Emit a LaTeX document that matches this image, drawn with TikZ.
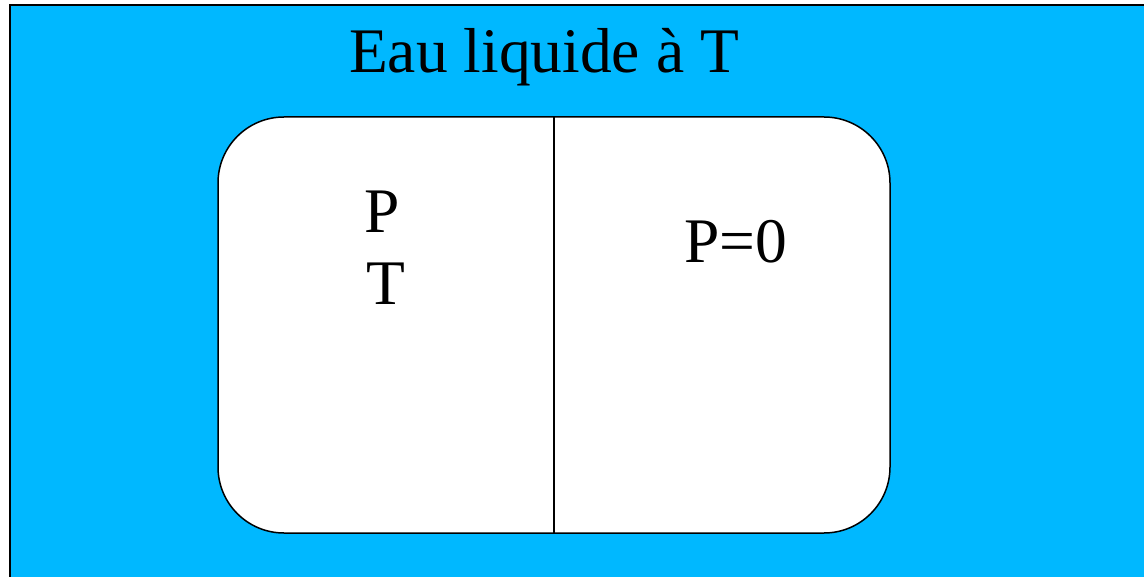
\documentclass[tikz,border=0pt]{standalone}
\usepackage{fontspec}
\setmainfont{Liberation Serif}
\definecolor{water}{RGB}{0,184,255}
\begin{document}
\begin{tikzpicture}[x=1pt,y=-1pt,
  lbl/.style={inner sep=0pt,font=\fontsize{63.5}{72}\selectfont},
  cell/.style={draw=black,line width=1.5pt,fill=white,rounded corners=66pt,
    minimum width=672pt,minimum height=416pt,inner sep=0pt}]
\useasboundingbox (0,0) rectangle (1144,577);
\fill[white] (0,0) rectangle (1144,577);
\draw[line width=2pt,fill=water] (10,5) rectangle (1160,590);
\node[lbl,anchor=base] (title) at (544,73) {Eau liquide à T};
\node[cell] (box) at (554,325) {};
\draw[line width=2.3pt] (box.north) -- (box.south);
\node[lbl,anchor=base west] (p) at (364,233) {P};
\node[lbl,anchor=base west] (t) at (366,305) {T};
\node[lbl,anchor=base west] (p0) at (684,263) {P=0};
\end{tikzpicture}
\end{document}
